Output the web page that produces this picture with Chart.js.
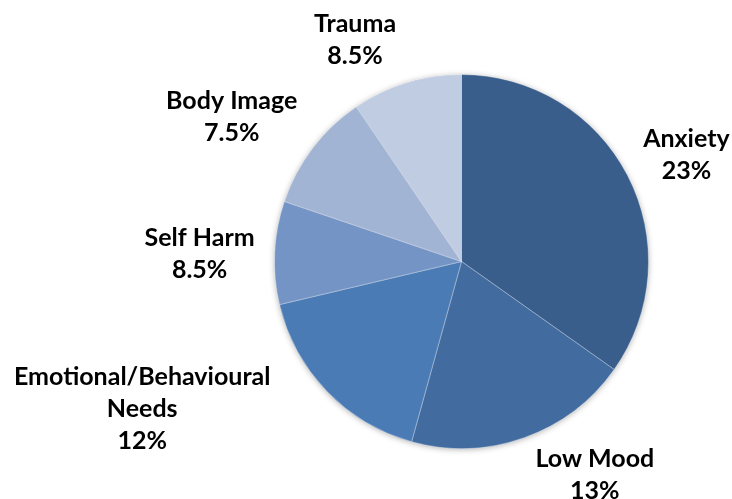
<!DOCTYPE html>
<html>
<head>
<meta charset="utf-8">
<script src="https://cdn.jsdelivr.net/npm/chart.js@4"></script>
<style>
  html, body { margin: 0; padding: 0; background: #fff; }
  #wrap { width: 732px; height: 499px; }
</style>
</head>
<body>
<div id="wrap"><canvas id="pieChart" width="732" height="499"></canvas></div>
<script>
// categories (multi-line where the label wraps)
const categories = [
  ['Anxiety'],
  ['Low Mood'],
  ['Emotional/Behavioural', 'Needs'],
  ['Self Harm'],
  ['Body Image'],
  ['Trauma']
];
// slice sizes as drawn
const sliceValues = [34.8, 19.5, 17.0, 8.9, 10.3, 9.5];
// percentages printed on the labels
const percentLabels = ['23%', '13%', '12%', '8.5%', '7.5%', '8.5%'];
const sliceColors = ['#395e8b', '#426ca0', '#4a7bb5', '#7494c5', '#a2b4d4', '#c0cce1'];

// nudges for the outside labels (px), like excel's "best fit"
const labelNudge = [[4, 2], [45, -7], [-47, -38], [-7, 3], [-5, 1], [-35, 2]];

const FONT = 'bold 25px Lato, "Liberation Sans", sans-serif';
const LINE_H = 32;

const pieShadow = {
  id: 'pieShadow',
  beforeDatasetsDraw(chart) {
    const arc = chart.getDatasetMeta(0).data[0];
    if (!arc) return;
    const ctx = chart.ctx;
    ctx.save();
    ctx.shadowColor = 'rgba(0,0,0,0.35)';
    ctx.shadowBlur = 6;
    ctx.shadowOffsetY = 1;
    ctx.beginPath();
    ctx.arc(arc.x, arc.y, arc.outerRadius - 0.5, 0, Math.PI * 2);
    ctx.fillStyle = sliceColors[0];
    ctx.fill();
    ctx.restore();
  }
};

const outsideLabels = {
  id: 'outsideLabels',
  afterDatasetsDraw(chart) {
    const ctx = chart.ctx;
    const meta = chart.getDatasetMeta(0);
    ctx.save();
    ctx.font = FONT;
    ctx.fillStyle = '#000';
    ctx.textAlign = 'center';
    ctx.textBaseline = 'middle';
    meta.data.forEach((arc, i) => {
      const lines = categories[i].concat([percentLabels[i]]);
      const mid = (arc.startAngle + arc.endAngle) / 2;
      const dx = Math.cos(mid), dy = Math.sin(mid);
      const ax = arc.x + dx * (arc.outerRadius + 13);
      const ay = arc.y + dy * (arc.outerRadius + 13);
      const w = Math.max(...lines.map(l => ctx.measureText(l).width));
      const h = lines.length * LINE_H;
      const m = Math.max(Math.abs(dx), Math.abs(dy));
      const cx = ax + (w / 2) * (dx / m) + labelNudge[i][0];
      const cy = ay + (h / 2) * (dy / m) + labelNudge[i][1];
      lines.forEach((l, j) => {
        ctx.fillText(l, cx, cy - h / 2 + LINE_H * (j + 0.5));
      });
    });
    ctx.restore();
  }
};

new Chart(document.getElementById('pieChart'), {
  type: 'pie',
  data: {
    labels: categories,
    datasets: [{
      data: sliceValues,
      backgroundColor: sliceColors,
      borderColor: 'rgba(255,255,255,0.35)',
      borderWidth: 1
    }]
  },
  options: {
    responsive: false,
    animation: false,
    layout: { padding: { top: 74, bottom: 50, left: 274, right: 83 } },
    plugins: {
      legend: { display: false },
      tooltip: { enabled: false }
    }
  },
  plugins: [pieShadow, outsideLabels]
});
</script>
</body>
</html>
